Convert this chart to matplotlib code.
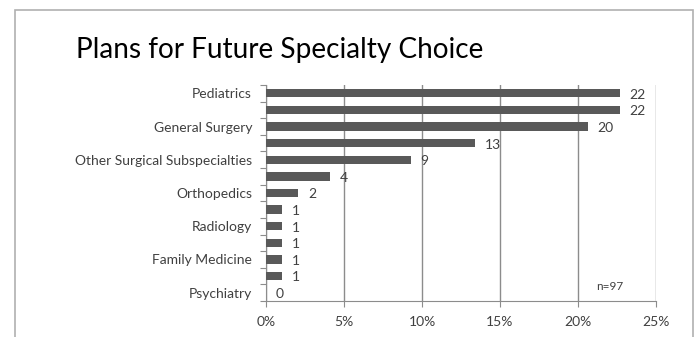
import matplotlib.pyplot as plt
import numpy as np
from matplotlib.patches import Rectangle

plt.rcParams['font.family'] = ['Lato', 'DejaVu Sans']

# specialties, top to bottom; only every other one carries a visible label
specialties = ['Pediatrics', '', 'General Surgery', '', 'Other Surgical Subspecialties', '',
               'Orthopedics', '', 'Radiology', '', 'Family Medicine', '', 'Psychiatry']
counts = [22, 22, 20, 13, 9, 4, 2, 1, 1, 1, 1, 1, 0]
total = 97
pct_ticks = [0, 5, 10, 15, 20, 25]
pct_labels = ['0%', '5%', '10%', '15%', '20%', '25%']

bar_color = '#595959'
grid_color = '#8c8c8c'
text_color = '#404040'

pct = np.array(counts) / total * 100
ypos = np.arange(len(counts))

fig = plt.figure(figsize=(7, 3.37), dpi=100)

# outer chart frame
fig.patches.append(Rectangle((15 / 700, -0.05), 678 / 700, 1 - 9.5 / 337 + 0.05,
                             transform=fig.transFigure, fill=False,
                             edgecolor='#b0b0b0', linewidth=1.2))

fig.text(76 / 700, 1 - 58 / 337, 'Plans for Future Specialty Choice',
         fontsize=20.2, color='#000000', ha='left', va='baseline')

ax = fig.add_axes([266 / 700, 1 - 301 / 337, 390 / 700, 216 / 337])
ax.barh(ypos, pct, height=0.5, color=bar_color, zorder=3)
ax.set_ylim(len(counts) - 0.5, -0.5)
ax.set_xlim(0, 25)

for y, p, c in zip(ypos, pct, counts):
    ax.annotate(str(c), (p, y), xytext=(7, -1), textcoords='offset points',
                va='center', ha='left', fontsize=10, color=text_color, zorder=4)

ax.set_xticks(pct_ticks)
ax.set_xticklabels(pct_labels, fontsize=10, color=text_color)
ax.set_yticks(np.arange(len(counts) + 1) - 0.5)
ax.set_yticklabels([])
ax.set_yticks(ypos, minor=True)
ax.set_yticklabels(specialties, minor=True, fontsize=10, color=text_color)
ax.tick_params(axis='y', which='major', length=4, color=grid_color, direction='out')
ax.tick_params(axis='y', which='minor', length=0, pad=10)
ax.tick_params(axis='x', length=4, color=grid_color, pad=7)

ax.grid(axis='x', color=grid_color, linewidth=1, zorder=0)
for side in ['top', 'right']:
    ax.spines[side].set_visible(False)
for side in ['left', 'bottom']:
    ax.spines[side].set_color(grid_color)

ax.text(610 / 700, 1 - 286 / 337, 'n=' + str(total), transform=fig.transFigure,
        fontsize=8.5, color=text_color, ha='center', va='center')

fig.savefig('out.png', dpi=100)
